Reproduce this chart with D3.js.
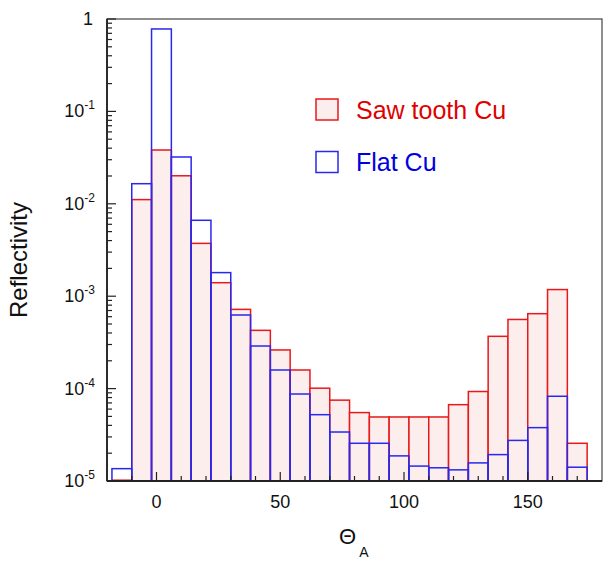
<!DOCTYPE html>
<html>
<head>
<meta charset="utf-8">
<script src="https://cdn.jsdelivr.net/npm/d3@7"></script>
<style>
  body { margin: 0; background: #fff; }
  svg { display: block; font-family: "Liberation Sans", Arial, sans-serif; }
</style>
</head>
<body>
<script>
// bin edges (Theta_A), 24 bins of width 8
let binStart = -18,
  binWidth = 8;

// reflectivity per bin
let sawTooth = [1.02e-5, 0.0111, 0.0382, 0.0201, 0.00373, 0.0014, 7.2e-4, 4.27e-4,
  2.62e-4, 1.59e-4, 1.01e-4, 7.5e-5, 5.5e-5, 4.93e-5, 4.93e-5, 4.93e-5,
  4.93e-5, 6.7e-5, 9.3e-5, 3.68e-4, 5.6e-4, 6.47e-4, 1.18e-3, 2.56e-5];
let flat = [1.36e-5, 0.0165, 0.78, 0.0321, 0.00663, 0.0018, 6.26e-4, 2.89e-4,
  1.59e-4, 8.74e-5, 5.22e-5, 3.39e-5, 2.56e-5, 2.56e-5, 1.87e-5, 1.45e-5,
  1.39e-5, 1.32e-5, 1.57e-5, 1.93e-5, 2.75e-5, 3.78e-5, 8.26e-5, 1.41e-5];

let xTicks = [0, 50, 100, 150];
let yTickExp = [0, -1, -2, -3, -4, -5];
let legendNames = ["Saw tooth Cu", "Flat Cu"];

let plotLeft = 107, plotRight = 602, plotTop = 19, plotBottom = 481;

let svg = d3.select("body").append("svg")
  .attr("width", 615)
  .attr("height", 563);

let x = d3.scaleLinear().domain([-20, 180]).range([plotLeft, plotRight]);
let y = d3.scaleLog().domain([1e-5, 1]).range([plotBottom, plotTop]);

function drawBars(data, fill, stroke) {
  svg.append("g")
    .selectAll("rect")
    .data(data)
    .enter()
    .append("rect")
    .attr("x", (d, i) => x(binStart + i * binWidth))
    .attr("width", (d, i) => x(binStart + (i + 1) * binWidth) - x(binStart + i * binWidth))
    .attr("y", (d) => y(d))
    .attr("height", (d) => plotBottom - y(d))
    .attr("fill", fill)
    .attr("stroke", stroke)
    .attr("stroke-width", 1.5);
}

drawBars(sawTooth, "#fdeeee", "#e8181c");
drawBars(flat, "none", "#2828ee");

// frame
svg.append("rect")
  .attr("x", plotLeft).attr("y", plotTop)
  .attr("width", plotRight - plotLeft).attr("height", plotBottom - plotTop)
  .attr("fill", "none").attr("stroke", "#444").attr("stroke-width", 1.2);

// y axis, ticks pointing inwards
let yAxis = svg.append("g").attr("transform", "translate(" + plotLeft + ",0)");
let minorY = [];
for (let e = -5; e < 0; e++) {
  for (let m = 2; m <= 9; m++) minorY.push(m * Math.pow(10, e));
}
yAxis.selectAll("line.minor").data(minorY).enter().append("line")
  .attr("x1", 0).attr("x2", 5)
  .attr("y1", (d) => y(d)).attr("y2", (d) => y(d))
  .attr("stroke", "#222").attr("stroke-width", 1.2);
yAxis.selectAll("line.major").data(yTickExp).enter().append("line")
  .attr("x1", 0).attr("x2", 9)
  .attr("y1", (d) => y(Math.pow(10, d))).attr("y2", (d) => y(Math.pow(10, d)))
  .attr("stroke", "#222").attr("stroke-width", 1.2);
yAxis.append("line")
  .attr("y1", plotTop).attr("y2", plotBottom)
  .attr("stroke", "#222").attr("stroke-width", 1.8);

let yLabels = svg.append("g").selectAll("text").data(yTickExp).enter().append("text")
  .attr("x", plotLeft - 12)
  .attr("y", (d) => y(Math.pow(10, d)) + 6)
  .attr("text-anchor", "end")
  .attr("font-size", 18)
  .attr("fill", "#111");
yLabels.each(function (d) {
  let t = d3.select(this);
  if (d === 0) {
    t.attr("x", plotLeft - 14).text("1");
  } else {
    t.append("tspan").text("10");
    t.append("tspan").attr("font-size", 12).attr("dy", -8).text(d);
  }
});

// x axis, ticks pointing inwards
let xAxis = svg.append("g").attr("transform", "translate(0," + plotBottom + ")");
let minorX = d3.range(-10, 180, 10).filter((d) => d % 50 !== 0);
xAxis.selectAll("line.minor").data(minorX).enter().append("line")
  .attr("x1", (d) => x(d)).attr("x2", (d) => x(d))
  .attr("y1", 0).attr("y2", -5)
  .attr("stroke", "#222").attr("stroke-width", 1.2);
xAxis.selectAll("line.major").data(xTicks).enter().append("line")
  .attr("x1", (d) => x(d)).attr("x2", (d) => x(d))
  .attr("y1", 0).attr("y2", -9)
  .attr("stroke", "#222").attr("stroke-width", 1.2);
xAxis.append("line")
  .attr("x1", plotLeft).attr("x2", plotRight)
  .attr("stroke", "#222").attr("stroke-width", 1.8);
xAxis.selectAll("text").data(xTicks).enter().append("text")
  .attr("x", (d) => x(d))
  .attr("y", 27)
  .attr("text-anchor", "middle")
  .attr("font-size", 18)
  .attr("fill", "#111")
  .text((d) => d);

// axis titles
let xTitle = svg.append("text")
  .attr("x", 339)
  .attr("y", 544)
  .attr("fill", "#111");
xTitle.append("tspan").attr("font-size", 22).text("\u0398");
xTitle.append("tspan").attr("font-size", 14).attr("dx", 3).attr("dy", 13).text("A");

svg.append("text")
  .attr("transform", "translate(27,260) rotate(-90)")
  .attr("text-anchor", "middle")
  .attr("font-size", 24)
  .attr("fill", "#111")
  .text("Reflectivity");

// legend
let legendFill = ["#fdeeee", "#fff"];
let legendColor = ["#e8181c", "#2828ee"];
let legendText = ["#e00000", "#0000dd"];
let legend = svg.append("g").selectAll("g").data(legendNames).enter().append("g")
  .attr("transform", (d, i) => "translate(316," + (99 + i * 52.5) + ")");
legend.append("rect")
  .attr("width", 22).attr("height", 21)
  .attr("fill", (d, i) => legendFill[i])
  .attr("stroke", (d, i) => legendColor[i])
  .attr("stroke-width", 1.5);
legend.append("text")
  .attr("x", 40)
  .attr("y", 19.5)
  .attr("font-size", 25)
  .attr("fill", (d, i) => legendText[i])
  .text((d) => d);
</script>
</body>
</html>
